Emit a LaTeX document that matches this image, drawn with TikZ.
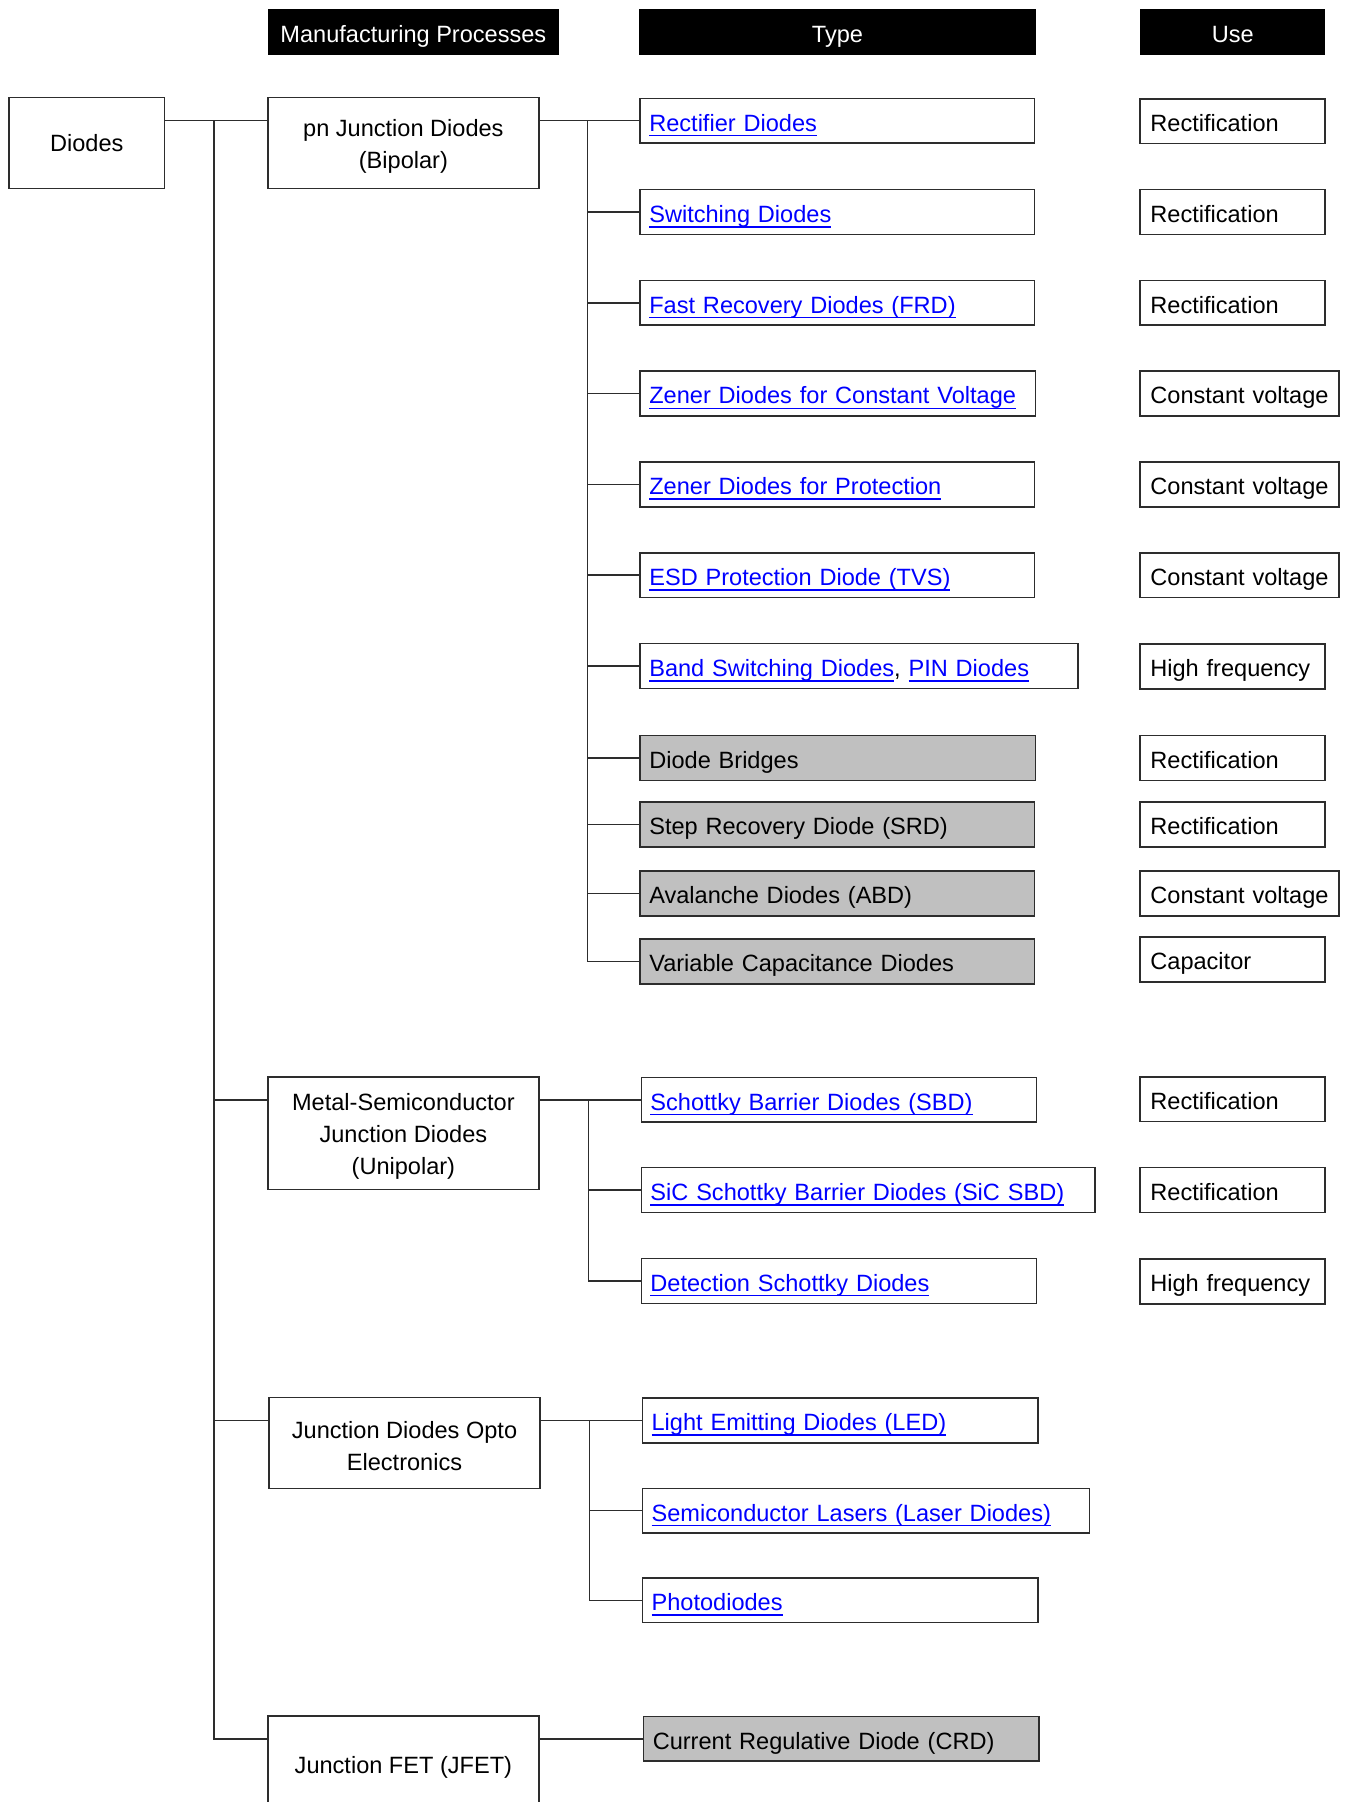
\documentclass[tikz,border=0pt]{standalone}
\usepackage{fontspec}
\setmainfont{Liberation Sans}
\usetikzlibrary{positioning}
\definecolor{linkblue}{RGB}{0,0,255}
\definecolor{silver}{RGB}{192,192,192}
\definecolor{linec}{RGB}{45,45,45}
\newcommand{\lnk}[1]{\leavevmode{\color{linkblue}\setbox0\hbox{#1}\rlap{\vrule height -3.2pt depth 4.6pt width \wd0}\box0}}
\newcommand{\dropline}{\rule{0pt}{21pt}}

\begin{document}
\begin{tikzpicture}[x=1pt, y=-1pt, font=\fontsize{20.5}{28}\selectfont,
  box/.style={draw=linec, line width=1.3pt, inner sep=0pt, outer sep=0pt, minimum height=39pt},
  line/.style={text height=22pt, text depth=4pt},
  hbox/.style={line, fill=black, text=white, anchor=north west, inner sep=0pt, minimum height=40pt, minimum width=#1},
  mbox/.style={box, anchor=north west, align=center, minimum width=#1},
  tbox/.style={box, line, anchor=west, inner xsep=8pt, text width=#1, align=left},
  gbox/.style={tbox=#1, fill=silver},
  ubox/.style={box, line, anchor=west, inner xsep=9pt, text width=#1, align=left},
  wire/.style={draw=linec, line width=1.3pt}]
\useasboundingbox (0,0) rectangle (1171,1568);
\clip (0,0) rectangle (1171,1568);
% -- headers --
\node[hbox=253] (hmp) at (233,8) {Manufacturing Processes};
\node[hbox=345] (htype) at (556,8) {Type};
\node[hbox=161] (huse) at (992,8) {Use};
% -- root and processes --
\node[mbox=135, minimum height=79pt] (diodes) at (8,85) {Diodes};
\node[mbox=236, minimum height=79pt] (pn) at (233,85) {\dropline pn Junction Diodes\\(Bipolar)};
\node[mbox=236, minimum height=98pt] (ms) at (233,937) {\dropline Metal-Semiconductor\\Junction Diodes\\(Unipolar)};
\node[mbox=236, minimum height=79pt] (opto) at (234,1216) {\dropline Junction Diodes Opto\\Electronics};
\node[mbox=236, minimum height=83pt] (jfet) at (233,1493) {\dropline Junction FET (JFET)};
% -- types: pn junction --
\node[tbox=327] (rect) at (557,105) {\lnk{Rectifier Diodes}};
\node[tbox=327] (sw) at (557,184.5) {\lnk{Switching Diodes}};
\node[tbox=327] (frd) at (557,263.5) {\lnk{Fast Recovery Diodes (FRD)}};
\node[tbox=328] (zcv) at (557,342.5) {\lnk{Zener Diodes for Constant Voltage}};
\node[tbox=327] (zpr) at (557,421.5) {\lnk{Zener Diodes for Protection}};
\node[tbox=327] (esd) at (557,500.5) {\lnk{ESD Protection Diode (TVS)}};
\node[tbox=365] (band) at (557,579.5) {\lnk{Band Switching Diodes}, \lnk{PIN Diodes}};
\node[gbox=328] (brid) at (557,659.5) {Diode Bridges};
\node[gbox=327] (srd) at (557,717.5) {Step Recovery Diode (SRD)};
\node[gbox=327] (abd) at (557,777.5) {Avalanche Diodes (ABD)};
\node[gbox=327] (vcd) at (557,836.5) {Variable Capacitance Diodes};
% -- types: metal-semiconductor --
\node[tbox=328] (sbd) at (558,957) {\lnk{Schottky Barrier Diodes (SBD)}};
\node[tbox=379] (sic) at (558,1035.5) {\lnk{SiC Schottky Barrier Diodes (SiC SBD)}};
\node[tbox=328] (det) at (558,1114.5) {\lnk{Detection Schottky Diodes}};
% -- types: opto --
\node[tbox=328] (led) at (559,1236) {\lnk{Light Emitting Diodes (LED)}};
\node[tbox=373] (ld) at (559,1314.5) {\lnk{Semiconductor Lasers (Laser Diodes)}};
\node[tbox=328] (pd) at (559,1392.5) {\lnk{Photodiodes}};
% -- types: jfet --
\node[gbox=328] (crd) at (560,1513) {Current Regulative Diode (CRD)};
% -- uses --
\node[ubox=143] (u1) at (992,105.5) {Rectification};
\node[ubox=143] (u2) at (992,184.5) {Rectification};
\node[ubox=143] (u3) at (992,263.5) {Rectification};
\node[ubox=155] (u4) at (992,342.5) {Constant voltage};
\node[ubox=155] (u5) at (992,421.5) {Constant voltage};
\node[ubox=155] (u6) at (992,500.5) {Constant voltage};
\node[ubox=143] (u7) at (992,580) {High frequency};
\node[ubox=143] (u8) at (992,659.5) {Rectification};
\node[ubox=143] (u9) at (992,717.5) {Rectification};
\node[ubox=155] (u10) at (992,777.5) {Constant voltage};
\node[ubox=143] (u11) at (992,835) {Capacitor};
\node[ubox=143] (u12) at (992,956.5) {Rectification};
\node[ubox=143] (u13) at (992,1035.5) {Rectification};
\node[ubox=143] (u14) at (992,1115) {High frequency};
% -- connectors --
\draw[wire] ([yshift=-20pt]diodes.north east) -- ([yshift=-20pt]pn.north west);
\coordinate (ja) at (186,105);
\foreach \m in {ms,opto,jfet}
  \draw[wire] (ja) |- ([yshift=-20pt]\m.north west);
\draw[wire] ([yshift=-20pt]pn.north east) -- (rect.west);
\coordinate (jb) at (511,105);
\foreach \t in {sw,frd,zcv,zpr,esd,band,brid,srd,abd,vcd}
  \draw[wire] (jb) |- (\t.west);
\draw[wire] ([yshift=-20pt]ms.north east) -- (sbd.west);
\coordinate (jc) at (512,957);
\foreach \t in {sic,det}
  \draw[wire] (jc) |- (\t.west);
\draw[wire] ([yshift=-20pt]opto.north east) -- (led.west);
\coordinate (jd) at (513,1236);
\foreach \t in {ld,pd}
  \draw[wire] (jd) |- (\t.west);
\draw[wire] ([yshift=-20pt]jfet.north east) -- (crd.west);
\end{tikzpicture}
\end{document}
